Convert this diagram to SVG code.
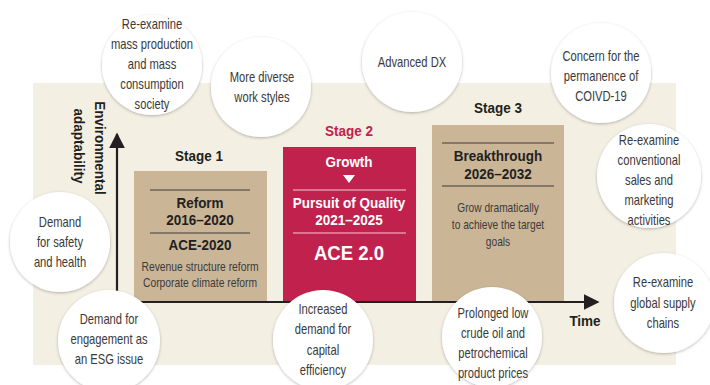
<svg xmlns="http://www.w3.org/2000/svg" width="710" height="385" viewBox="0 0 710 385">
<defs>
<filter id="sh" x="-20%" y="-20%" width="140%" height="140%">
<feDropShadow dx="0" dy="1" stdDeviation="1.6" flood-color="#000" flood-opacity="0.28"/>
</filter>
<marker id="ah" viewBox="0 0 10 10" refX="9" refY="5" markerWidth="16" markerHeight="16" markerUnits="userSpaceOnUse" orient="auto">
<path d="M0,0 L10,5 L0,10 z" fill="#231f20"/>
</marker>
</defs>
<style>
text{font-family:"Liberation Sans",Arial,sans-serif;}
.c{fill:#fff;filter:url(#sh);}
.ct{font-size:14px;fill:#3a3a3a;text-anchor:middle;}
.h{font-size:14.5px;font-weight:bold;fill:#231f20;text-anchor:middle;}
.hw{font-size:14.5px;font-weight:bold;fill:#fff;text-anchor:middle;}
.s{font-size:12px;fill:#3a3a3a;text-anchor:middle;}
.ln{stroke:#3a3a3a;stroke-width:1.2;}
.lw{stroke:#f2c9d4;stroke-width:1.2;}
.ax{stroke:#231f20;stroke-width:2.2;fill:none;}
</style>
<rect x="33" y="83" width="643" height="282" fill="#f4efe3"/>

<g id="connectors">
<line class="ax" x1="117" y1="302" x2="117" y2="134" marker-end="url(#ah)"/>
<line class="ax" x1="116" y1="302" x2="598" y2="302" marker-end="url(#ah)"/>
</g>

<g id="axis-labels">
<text class="h" transform="translate(95,148) rotate(90) scale(0.93,1)">Environmental</text>
<text class="h" transform="translate(74,146) rotate(90) scale(0.93,1)">adaptability</text>
<text class="h" transform="translate(585,326) scale(0.93,1)">Time</text>
</g>

<g id="stage1">
<rect x="134" y="171" width="133" height="130" fill="#cbb597"/>
<line class="ln" x1="150" y1="190" x2="250" y2="190"/>
<line class="ln" x1="150" y1="233" x2="250" y2="233"/>
<g transform="translate(200,0) scale(0.93,1)">
<text class="h" x="-1" y="161">Stage 1</text>
<text class="h" x="0" y="208">Reform</text>
<text class="h" x="0" y="225">2016–2020</text>
<text class="h" x="0" y="250">ACE-2020</text>
</g>
<g transform="translate(200,0) scale(0.86,1)">
<text class="s" x="0" y="271">Revenue structure reform</text>
<text class="s" x="0" y="287">Corporate climate reform</text>
</g>
</g>

<g id="stage2">
<rect x="283" y="147" width="133" height="154" fill="#c0224d"/>
<path d="M343,175 L355,175 L349,183 z" fill="#fff"/>
<line class="lw" x1="293" y1="190" x2="406" y2="190"/>
<line class="lw" x1="293" y1="233" x2="406" y2="233"/>
<g transform="translate(349,0) scale(0.93,1)">
<text class="h" x="0" y="136" style="fill:#c0224d">Stage 2</text>
<text class="hw" x="0" y="167">Growth</text>
<text class="hw" x="0" y="208">Pursuit of Quality</text>
<text class="hw" x="0" y="225">2021–2025</text>
<text class="hw" x="0" y="260" style="font-size:20px">ACE 2.0</text>
</g>
</g>

<g id="stage3">
<rect x="432" y="125" width="132" height="176" fill="#cbb597"/>
<line class="ln" x1="442" y1="143" x2="554" y2="143"/>
<line class="ln" x1="442" y1="186" x2="554" y2="186"/>
<g transform="translate(498,0) scale(0.93,1)">
<text class="h" x="0" y="113">Stage 3</text>
<text class="h" x="0" y="161">Breakthrough</text>
<text class="h" x="0" y="179">2026–2032</text>
</g>
<g transform="translate(498,0) scale(0.85,1)">
<text class="s" x="0" y="212">Grow dramatically</text>
<text class="s" x="0" y="229">to achieve the target</text>
<text class="s" x="0" y="246">goals</text>
</g>
</g>

<g id="c-mass">
<circle class="c" cx="152" cy="65" r="50"/>
<g transform="translate(152,0) scale(0.8,1)">
<text class="ct" x="0" y="29">Re-examine</text>
<text class="ct" x="0" y="49">mass production</text>
<text class="ct" x="0" y="69">and mass</text>
<text class="ct" x="0" y="89">consumption</text>
<text class="ct" x="0" y="109">society</text>
</g>
</g>

<g id="c-work">
<circle class="c" cx="261" cy="87" r="50"/>
<g transform="translate(262,0) scale(0.8,1)">
<text class="ct" x="0" y="82">More diverse</text>
<text class="ct" x="0" y="102">work styles</text>
</g>
</g>

<g id="c-dx">
<circle class="c" cx="412" cy="62" r="50"/>
<g transform="translate(412,0) scale(0.8,1)">
<text class="ct" x="0" y="67">Advanced DX</text>
</g>
</g>

<g id="c-covid">
<circle class="c" cx="601" cy="73" r="50"/>
<g transform="translate(601,0) scale(0.8,1)">
<text class="ct" x="0" y="61">Concern for the</text>
<text class="ct" x="0" y="81">permanence of</text>
<text class="ct" x="0" y="101">COIVD-19</text>
</g>
</g>

<g id="c-sales">
<circle class="c" cx="649" cy="176" r="52"/>
<g transform="translate(649,0) scale(0.8,1)">
<text class="ct" x="0" y="145">Re-examine</text>
<text class="ct" x="0" y="165">conventional</text>
<text class="ct" x="0" y="185">sales and</text>
<text class="ct" x="0" y="205">marketing</text>
<text class="ct" x="0" y="225">activities</text>
</g>
</g>

<g id="c-supply">
<circle class="c" cx="664" cy="303" r="50"/>
<g transform="translate(663,0) scale(0.8,1)">
<text class="ct" x="0" y="287">Re-examine</text>
<text class="ct" x="0" y="308">global supply</text>
<text class="ct" x="0" y="328">chains</text>
</g>
</g>

<g id="c-safety">
<circle class="c" cx="60" cy="242" r="50"/>
<g transform="translate(60,0) scale(0.8,1)">
<text class="ct" x="0" y="227">Demand</text>
<text class="ct" x="0" y="247">for safety</text>
<text class="ct" x="0" y="267">and health</text>
</g>
</g>

<g id="c-esg">
<circle class="c" cx="109" cy="341" r="51"/>
<g transform="translate(109,0) scale(0.8,1)">
<text class="ct" x="0" y="324">Demand for</text>
<text class="ct" x="0" y="344">engagement as</text>
<text class="ct" x="0" y="364">an ESG issue</text>
</g>
</g>

<g id="c-capital">
<circle class="c" cx="323" cy="340" r="50"/>
<g transform="translate(323,0) scale(0.8,1)">
<text class="ct" x="0" y="314">Increased</text>
<text class="ct" x="0" y="334">demand for</text>
<text class="ct" x="0" y="355">capital</text>
<text class="ct" x="0" y="375">efficiency</text>
</g>
</g>

<g id="c-oil">
<circle class="c" cx="492" cy="337" r="50"/>
<g transform="translate(493,0) scale(0.8,1)">
<text class="ct" x="0" y="318">Prolonged low</text>
<text class="ct" x="0" y="338">crude oil and</text>
<text class="ct" x="0" y="358">petrochemical</text>
<text class="ct" x="0" y="378">product prices</text>
</g>
</g>
</svg>
